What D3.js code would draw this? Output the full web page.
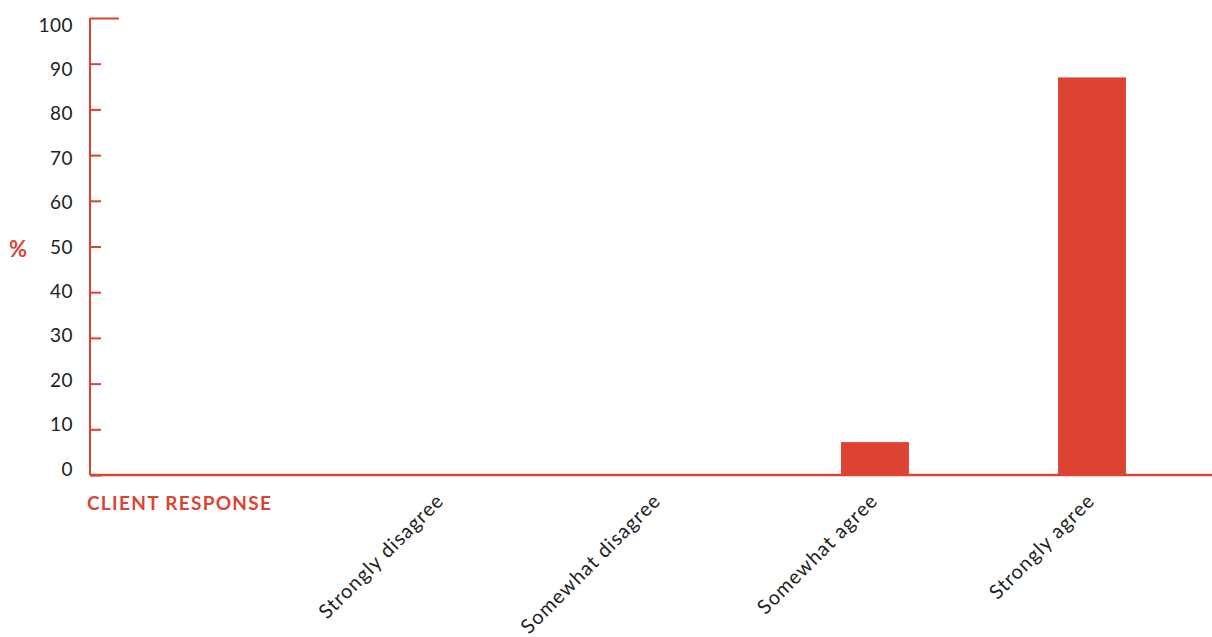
<!DOCTYPE html>
<html>
<head>
<meta charset="utf-8">
<script src="https://cdn.jsdelivr.net/npm/d3@7"></script>
<style>
  body { margin: 0; background: #fff; }
  text { font-family: Lato, "Open Sans", sans-serif; }
</style>
</head>
<body>
<div id="vis"></div>
<script>
var categories = ['Strongly disagree', 'Somewhat disagree', 'Somewhat agree', 'Strongly agree'];
var values = [0, 0, 7.2, 87];
var yTicks = [0, 10, 20, 30, 40, 50, 60, 70, 80, 90, 100];

var RED = '#dc4333';
var width = 1212, height = 637;

var svg = d3.select('#vis').append('svg')
    .attr('width', width)
    .attr('height', height);

var xScale = d3.scaleBand().domain(categories).range([332.5, 1200.5])
    .paddingInner(0.687).paddingOuter(0.3435);
var yScale = d3.scaleLinear().domain([0, 100]).range([475, 18]);
// labels sit on a slightly tighter spacing than the ticks
var labelScale = d3.scaleLinear().domain([0, 100]).range([469, 25]);

// bars
svg.append('g')
  .selectAll('rect')
  .data(values)
  .enter()
  .append('rect')
  .attr('x', function(d, i) { return xScale(categories[i]); })
  .attr('width', xScale.bandwidth())
  .attr('y', function(d) { return yScale(d); })
  .attr('height', function(d) { return yScale(0) - yScale(d); })
  .attr('fill', RED);

// y axis
var yAxis = d3.axisRight(yScale).tickValues(yTicks)
    .tickSize(11).tickFormat('');
var yg = svg.append('g')
    .attr('transform', 'translate(90,0)')
    .call(yAxis);
yg.select('.domain').remove();
yg.selectAll('line').attr('stroke', RED).attr('stroke-width', 2);
yg.selectAll('.tick').filter(function(d) { return d === 100; })
  .select('line').attr('x2', 29);
svg.append('line')
  .attr('x1', 90).attr('x2', 90)
  .attr('y1', yScale(100)).attr('y2', yScale(0))
  .attr('stroke', RED).attr('stroke-width', 2);

svg.append('g')
  .selectAll('text')
  .data(yTicks)
  .enter()
  .append('text')
  .attr('x', 73)
  .attr('y', function(d) { return labelScale(d); })
  .attr('dy', '0.35em')
  .attr('text-anchor', 'end')
  .attr('font-size', 19)
  .attr('letter-spacing', 0.5)
  .attr('fill', '#222')
  .text(function(d) { return d; });

// x axis
svg.append('line')
  .attr('x1', 90).attr('x2', 1212)
  .attr('y1', yScale(0)).attr('y2', yScale(0))
  .attr('stroke', RED).attr('stroke-width', 2.5);

svg.append('g')
  .selectAll('text')
  .data(categories)
  .enter()
  .append('text')
  .attr('transform', function(d) {
    return 'translate(' + (xScale(d) + xScale.bandwidth() / 2 + 4) + ',' + 502 + ')rotate(-45)';
  })
  .attr('text-anchor', 'end')
  .attr('font-size', 20)
  .attr('letter-spacing', 1)
  .attr('fill', '#222')
  .text(function(d) { return d; });

// titles
svg.append('text')
  .attr('x', 9).attr('y', 249)
  .attr('dy', '0.35em')
  .attr('font-size', 22)
  .attr('font-weight', 'bold')
  .attr('fill', RED)
  .text('%');

svg.append('text')
  .attr('x', 87).attr('y', 503)
  .attr('dy', '0.35em')
  .attr('font-size', 19)
  .attr('font-weight', 'bold')
  .attr('letter-spacing', 1.3)
  .attr('fill', RED)
  .text('CLIENT RESPONSE');
</script>
</body>
</html>
